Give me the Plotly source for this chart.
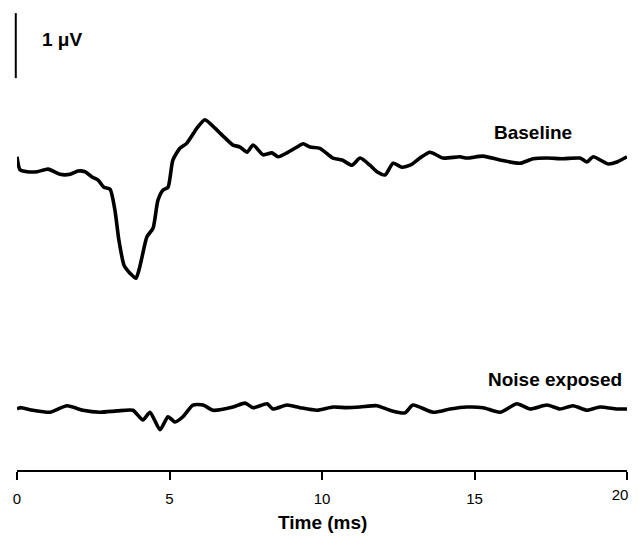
import plotly.graph_objects as go

# Time (ms) and amplitude (µV)
baseline_t = [0.00, 0.10, 0.33, 0.66, 1.02, 1.41, 1.74, 2.00, 2.23, 2.46, 2.66, 2.85, 3.05, 3.21, 3.34,
              3.51, 3.61, 3.70, 3.90, 4.00, 4.10, 4.26, 4.46, 4.62, 4.79, 4.95, 5.11, 5.34, 5.57, 5.90,
              6.16, 6.49, 6.82, 7.08, 7.31, 7.54, 7.74, 8.07, 8.36, 8.56, 8.85, 9.18, 9.38, 9.61, 9.93,
              10.36, 10.66, 10.98, 11.25, 11.57, 11.80, 12.07, 12.33, 12.62, 12.89, 13.21, 13.54, 13.97,
              14.52, 14.75, 15.28, 15.84, 16.49, 16.92, 17.38, 17.90, 18.46, 18.69, 18.89, 19.38, 19.67, 20.00]
baseline_v = [0.05, -0.15, -0.18, -0.18, -0.14, -0.22, -0.22, -0.17, -0.18, -0.26, -0.31, -0.42, -0.45, -0.77, -1.23,
              -1.62, -1.69, -1.74, -1.82, -1.69, -1.49, -1.18, -1.05, -0.62, -0.46, -0.42, 0.00, 0.18, 0.26, 0.49,
              0.62, 0.49, 0.34, 0.23, 0.20, 0.12, 0.23, 0.08, 0.11, 0.05, 0.11, 0.20, 0.25, 0.20, 0.18,
              0.03, 0.00, -0.08, 0.03, -0.08, -0.18, -0.23, -0.05, -0.11, -0.08, 0.03, 0.12, 0.03,
              0.05, 0.03, 0.06, 0.00, -0.05, 0.02, 0.03, 0.02, 0.03, -0.03, 0.05, -0.06, -0.03, 0.05]

noise_t = [0.00, 0.10, 0.52, 1.08, 1.64, 2.16, 2.72, 3.28, 3.80, 4.13, 4.36, 4.69, 4.95, 5.18, 5.44, 5.77,
           6.10, 6.43, 7.08, 7.48, 7.74, 8.20, 8.39, 8.85, 9.28, 9.84, 10.36, 10.82, 11.25, 11.80, 12.23,
           12.72, 12.98, 13.64, 14.20, 14.75, 15.28, 15.84, 16.39, 16.82, 17.38, 17.80, 18.23, 18.69,
           19.11, 19.67, 20.00]
noise_v = [0.00, 0.02, -0.02, -0.05, 0.05, -0.02, -0.05, -0.03, -0.02, -0.17, -0.05, -0.32, -0.12, -0.20, -0.12, 0.06,
           0.06, -0.02, 0.03, 0.09, 0.02, 0.08, 0.00, 0.06, 0.02, -0.02, 0.03, 0.02, 0.03, 0.05, -0.02,
           -0.06, 0.06, -0.05, 0.00, 0.03, 0.02, -0.05, 0.08, 0.00, 0.06, 0.00, 0.05, -0.02,
           0.03, 0.00, 0.00]

x_ticks = [0, 5, 10, 15, 20]
labels = ["Baseline", "Noise exposed"]
x_title = "Time (ms)"

NOISE_OFFSET = -3.83  # vertical display offset of the lower trace (µV)
FONT = "Arial, Liberation Sans, sans-serif"

fig = go.Figure()
fig.add_trace(go.Scatter(x=baseline_t, y=baseline_v, mode="lines",
                         line=dict(color="black", width=3.6, shape="spline", smoothing=0.6),
                         name=labels[0], showlegend=False, hoverinfo="skip"))
fig.add_trace(go.Scatter(x=noise_t, y=[v + NOISE_OFFSET for v in noise_v], mode="lines",
                         line=dict(color="black", width=3.6, shape="spline", smoothing=0.6),
                         name=labels[1], showlegend=False, hoverinfo="skip"))
# empty trace so the helper axis (label of the last tick) is drawn
fig.add_trace(go.Scatter(x=[], y=[], xaxis="x2", yaxis="y", showlegend=False, hoverinfo="skip"))

# 1 µV scale bar
fig.add_shape(type="line", xref="paper", yref="y", x0=-0.002, x1=-0.002, y0=1.26, y1=2.26,
              line=dict(color="black", width=2))
fig.add_annotation(x=0.75, y=1.86, xref="x", yref="y", text="<b>1 μV</b>", showarrow=False,
                   xanchor="left", yanchor="middle", font=dict(family=FONT, size=19, color="black"))
fig.add_annotation(x=16.92, y=0.43, xref="x", yref="y", text="<b>" + labels[0] + "</b>", showarrow=False,
                   xanchor="center", yanchor="middle", font=dict(family=FONT, size=19, color="black"))
fig.add_annotation(x=19.9, y=NOISE_OFFSET + 0.45, xref="x", yref="y", text="<b>" + labels[1] + "</b>",
                   showarrow=False, xanchor="right", yanchor="middle",
                   font=dict(family=FONT, size=19, color="black"))
# x-axis title
fig.add_annotation(x=0.5, y=-0.1152, xref="paper", yref="paper", text="<b>" + x_title + "</b>",
                   showarrow=False, xanchor="center", yanchor="middle",
                   font=dict(family=FONT, size=19, color="black"))

main_text = [str(t) for t in x_ticks[:-1]] + [""]

fig.update_layout(
    width=622, height=525,
    margin=dict(l=9, r=3, t=2, b=63),
    plot_bgcolor="white", paper_bgcolor="white",
    font=dict(family=FONT, color="black"),
    xaxis=dict(range=[0, 20], tickvals=x_ticks, ticktext=main_text,
               showline=True, linecolor="black", linewidth=2, ticks="outside", ticklen=8,
               tickwidth=2, tickcolor="black", showgrid=False, zeroline=False,
               ticklabelstandoff=6, automargin=False,
               tickfont=dict(family=FONT, size=15, color="black")),
    xaxis2=dict(range=[0, 20], overlaying="x", anchor="y", side="bottom",
                tickvals=[x_ticks[-1]], ticktext=[str(x_ticks[-1])],
                showline=False, ticks="", ticklen=8, showgrid=False, zeroline=False,
                ticklabelstandoff=14, ticklabelshift=-7, automargin=False,
                tickfont=dict(family=FONT, size=15, color="black")),
    yaxis=dict(range=[-4.769, 2.308], visible=False, showgrid=False, zeroline=False),
)

fig.write_html("out.html", config={"displayModeBar": False})
